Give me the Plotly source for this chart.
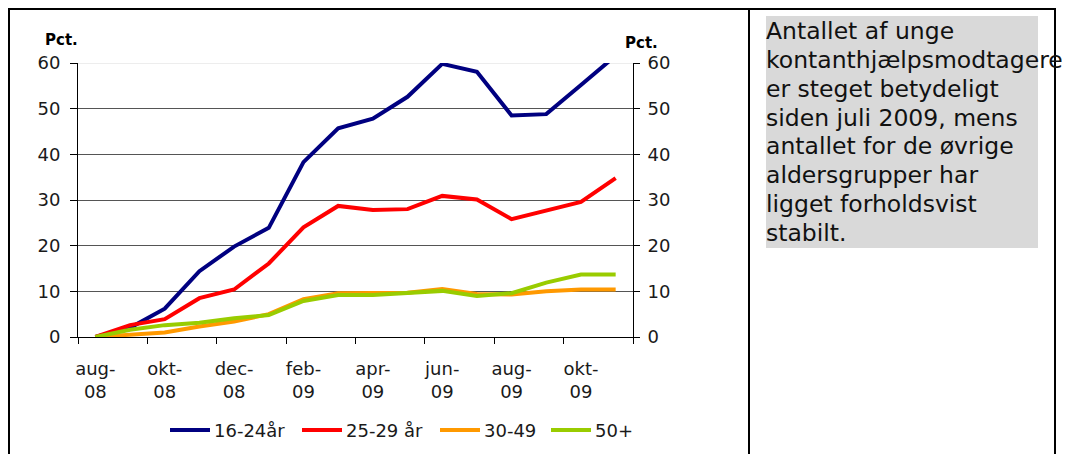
import plotly.graph_objects as go

W, H = 1070, 454
OFF = 8  # the page body adds an 8px margin around the figure
PL, PR, PT, PB = 78, 633, 63, 337  # plot area in page pixels


def px(x):
    return (x - PL) / (PR - PL)


def py(y):
    return (PB - y) / (PB - PT)


months = ["aug-08", "sep-08", "okt-08", "nov-08", "dec-08", "jan-09", "feb-09", "mar-09",
          "apr-09", "maj-09", "jun-09", "jul-09", "aug-09", "sep-09", "okt-09", "nov-09"]
age_16_24 = [0, 2.0, 6.2, 14.4, 19.8, 23.9, 38.3, 45.7, 47.8, 52.6, 59.8, 58.1, 48.5, 48.8, 55.2, 61.6]
age_25_29 = [0, 2.6, 3.9, 8.5, 10.4, 16.1, 24.0, 28.7, 27.8, 28.0, 30.9, 30.1, 25.8, 27.7, 29.6, 34.8]
age_30_49 = [0, 0.5, 1.0, 2.3, 3.4, 5.0, 8.3, 9.6, 9.7, 9.7, 10.5, 9.4, 9.3, 10.0, 10.4, 10.4]
age_50 = [0, 1.6, 2.6, 3.1, 4.1, 4.8, 7.9, 9.2, 9.2, 9.6, 10.1, 9.0, 9.6, 11.9, 13.7, 13.7]

series_names = ["16-24år", "25-29 år", "30-49", "50+"]
series_colors = ["#000080", "#FF0000", "#FF9900", "#99CC00"]
y_ticks = [0, 10, 20, 30, 40, 50, 60]
label_months = months[::2]

note_lines = ["Antallet af unge", "kontanthjælpsmodtagere", "er steget betydeligt",
              "siden juli 2009, mens", "antallet for de øvrige", "aldersgrupper har",
              "ligget forholdsvist", "stabilt."]

FONT = "DejaVu Sans"
TXT = "#1a1a1a"

fig = go.Figure()
for name, values, color in zip(series_names, [age_16_24, age_25_29, age_30_49, age_50], series_colors):
    fig.add_scatter(x=months, y=values, name=name, mode="lines",
                    line=dict(color=color, width=4), showlegend=False)

# carrier trace for the secondary axes (boundary ticks, right-hand scale)
fig.add_scatter(x=[0], y=[0], xaxis="x2", yaxis="y2", mode="none",
                showlegend=False, hoverinfo="skip")

fig.update_layout(
    width=W, height=H, autosize=False,
    margin=dict(l=PL - OFF, r=W - (PR - OFF), t=PT - OFF, b=H - (PB - OFF), pad=0),
    paper_bgcolor="white", plot_bgcolor="white",
    font=dict(family=FONT, size=18, color=TXT),
    xaxis=dict(type="category", range=[-0.5, len(months) - 0.5],
               tickvals=label_months,
               ticktext=[m.replace("-", "-<br>") for m in label_months],
               ticks="", showgrid=False, showline=True, linecolor="black", linewidth=1,
               ticklabelstandoff=15, tickfont=dict(size=18, color=TXT), automargin=False),
    xaxis2=dict(overlaying="x", anchor="y", range=[-0.5, len(months) - 0.5],
                tickvals=[i - 0.5 for i in range(0, len(months) + 1, 2)],
                ticks="outside", ticklen=6, tickcolor="black", showticklabels=False,
                showgrid=False, showline=False, zeroline=False),
    yaxis=dict(range=[0, 60], tickvals=y_ticks, ticks="outside", ticklen=7,
               tickcolor="black", showline=True, linecolor="black", linewidth=1,
               showgrid=True, gridcolor="#555555", gridwidth=1, zeroline=False,
               ticklabelstandoff=6, tickfont=dict(size=18, color=TXT), automargin=False),
    yaxis2=dict(overlaying="y", side="right", anchor="x2", range=[0, 60], tickvals=y_ticks,
                ticks="outside", ticklen=6, tickcolor="black", showline=True,
                linecolor="black", linewidth=1, showgrid=False, zeroline=False,
                ticklabelstandoff=4, tickfont=dict(size=18, color=TXT), automargin=False),
    showlegend=False,
)

# light top gridline
fig.add_shape(type="line", xref="paper", yref="y", x0=0, x1=1, y0=60, y1=60,
              line=dict(color="#dcdcdc", width=1), layer="between")

# legend: line sample + label per series
legend_x = [170, 302, 440, 551]
for x, name, color in zip(legend_x, series_names, series_colors):
    fig.add_shape(type="line", xref="paper", yref="paper", x0=px(x), x1=px(x + 40),
                  y0=py(430), y1=py(430), line=dict(color=color, width=4))
    fig.add_annotation(text=name, xref="paper", yref="paper", x=px(x + 42), y=py(430),
                       xanchor="left", yanchor="middle", showarrow=False,
                       font=dict(size=18, color=TXT))

# "Pct." unit labels
for x, y in [(61, 40), (641, 43)]:
    fig.add_annotation(text="<b>Pct.</b>", xref="paper", yref="paper", x=px(x), y=py(y),
                       xanchor="center", yanchor="middle", showarrow=False,
                       font=dict(size=15, color="black"))

# frame around chart and text panel
fig.add_shape(type="rect", xref="paper", yref="paper", x0=px(9), x1=px(1055),
              y0=py(480), y1=py(9), line=dict(color="black", width=2), layer="above")
fig.add_shape(type="line", xref="paper", yref="paper", x0=px(749), x1=px(749),
              y0=py(480), y1=py(9), line=dict(color="black", width=2), layer="above")

# grey note box
fig.add_shape(type="rect", xref="paper", yref="paper", x0=px(766), x1=px(1038),
              y0=py(248), y1=py(16), fillcolor="#d9d9d9", line=dict(width=0), layer="below")
for i, line in enumerate(note_lines):
    fig.add_annotation(text=line, xref="paper", yref="paper", x=px(764), y=py(31 + i * 28.85),
                       xanchor="left", yanchor="middle", showarrow=False,
                       font=dict(size=23.5, color="#111111"))

fig.write_html("out.html")
